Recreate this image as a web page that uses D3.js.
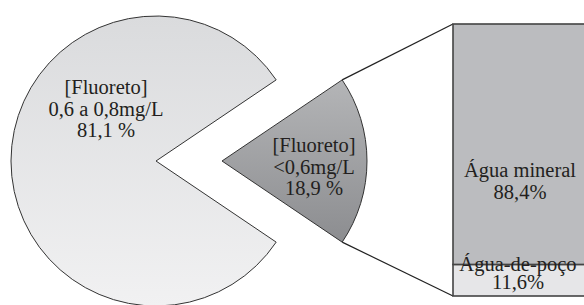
<!DOCTYPE html>
<html>
<head>
<meta charset="utf-8">
<script src="https://cdn.jsdelivr.net/npm/d3@7"></script>
<style>
  body { margin: 0; background: #fff; }
  svg { display: block; }
</style>
</head>
<body>
<div id="chart"></div>
<script>
// data
const pieLabels = [
  ["[Fluoreto]", "0,6 a 0,8mg/L", "81,1 %"],
  ["[Fluoreto]", "<0,6mg/L", "18,9 %"]
];
const pieValues = [81.1, 18.9];
const barLabels = [
  ["Água-de-poço", "11,6%"],
  ["Água mineral", "88,4%"]
];
const barValues = [11.6, 88.4];

const width = 584, height = 305;
const cx = 156, cy = 161, radius = 145;
const explode = 66;
const fontFamily = "'Liberation Serif', 'Times New Roman', serif";

const svg = d3.select("#chart").append("svg")
  .attr("width", width)
  .attr("height", height);

const defs = svg.append("defs");
const gradBig = defs.append("linearGradient").attr("id", "gBig")
  .attr("x1", 0).attr("y1", 0).attr("x2", 0).attr("y2", 1);
gradBig.append("stop").attr("offset", "0%").attr("stop-color", "#dadbdd");
gradBig.append("stop").attr("offset", "100%").attr("stop-color", "#f1f1f2");
const gradSmall = defs.append("linearGradient").attr("id", "gSmall")
  .attr("x1", 0).attr("y1", 0).attr("x2", 0).attr("y2", 1);
gradSmall.append("stop").attr("offset", "0%").attr("stop-color", "#b4b5b7");
gradSmall.append("stop").attr("offset", "100%").attr("stop-color", "#8c8d90");

const total = d3.sum(pieValues);
const smallHalf = Math.PI * pieValues[1] / total;
const start = Math.PI / 2 + smallHalf;

const pie = d3.pie().sort(null)
  .startAngle(start)
  .endAngle(start + 2 * Math.PI);
const arcs = pie(pieValues);
const arc = d3.arc().innerRadius(0).outerRadius(radius);

// bar scale
const barX = 453, barW = 134;
const y = d3.scaleLinear().domain([0, d3.sum(barValues)]).range([296, 24]);
let acc = 0;
const stacked = barValues.map((v, i) => {
  const s = { y0: acc, y1: acc + v, label: barLabels[i], i };
  acc += v;
  return s;
});

// connector lines from the pulled slice to the bar corners
const sArc = arcs[1];
const p0 = [cx + explode + radius * Math.sin(sArc.startAngle), cy - radius * Math.cos(sArc.startAngle)];
const p1 = [cx + explode + radius * Math.sin(sArc.endAngle), cy - radius * Math.cos(sArc.endAngle)];
const lowPt = p0[1] > p1[1] ? p0 : p1;
const highPt = p0[1] > p1[1] ? p1 : p0;
svg.append("line")
  .attr("x1", highPt[0]).attr("y1", highPt[1])
  .attr("x2", barX).attr("y2", y(d3.sum(barValues)))
  .attr("stroke", "#222").attr("stroke-width", 1.2);
svg.append("line")
  .attr("x1", lowPt[0]).attr("y1", lowPt[1])
  .attr("x2", barX).attr("y2", y(0))
  .attr("stroke", "#222").attr("stroke-width", 1.2);

// pie slices
svg.selectAll(".slice")
  .data(arcs)
  .enter().append("path")
  .attr("class", "slice")
  .attr("transform", (d, i) => `translate(${cx + (i === 1 ? explode : 0)},${cy})`)
  .attr("d", arc)
  .attr("fill", (d, i) => i === 0 ? "url(#gBig)" : "url(#gSmall)")
  .attr("stroke", "#333")
  .attr("stroke-width", 1);

// stacked bar
svg.selectAll(".seg")
  .data(stacked)
  .enter().append("rect")
  .attr("class", "seg")
  .attr("x", barX)
  .attr("width", barW)
  .attr("y", d => y(d.y1))
  .attr("height", d => y(d.y0) - y(d.y1))
  .attr("fill", d => d.i === 0 ? "#e6e6e8" : "#bbbcbf")
  .attr("stroke", "#444")
  .attr("stroke-width", 1.6);

// pie labels
const pieLabelPos = [[106, 94], [314, 152]];
pieLabels.forEach((lines, i) => {
  const t = svg.append("text")
    .attr("text-anchor", "middle")
    .style("font-family", fontFamily)
    .style("font-size", "20.5px")
    .style("fill", "#231f20");
  lines.forEach((s, j) => {
    t.append("tspan")
      .attr("x", pieLabelPos[i][0])
      .attr("y", pieLabelPos[i][1] + j * 21.5)
      .text(s);
  });
});

// bar labels
const barLabelPos = [[518, 271, 18], [520, 177, 22]];
stacked.forEach((d, i) => {
  const t = svg.append("text")
    .attr("text-anchor", "middle")
    .style("font-family", fontFamily)
    .style("font-size", "20.5px")
    .style("fill", "#231f20");
  d.label.forEach((s, j) => {
    t.append("tspan")
      .attr("x", barLabelPos[i][0])
      .attr("y", barLabelPos[i][1] + j * barLabelPos[i][2])
      .text(s);
  });
});
</script>
</body>
</html>
